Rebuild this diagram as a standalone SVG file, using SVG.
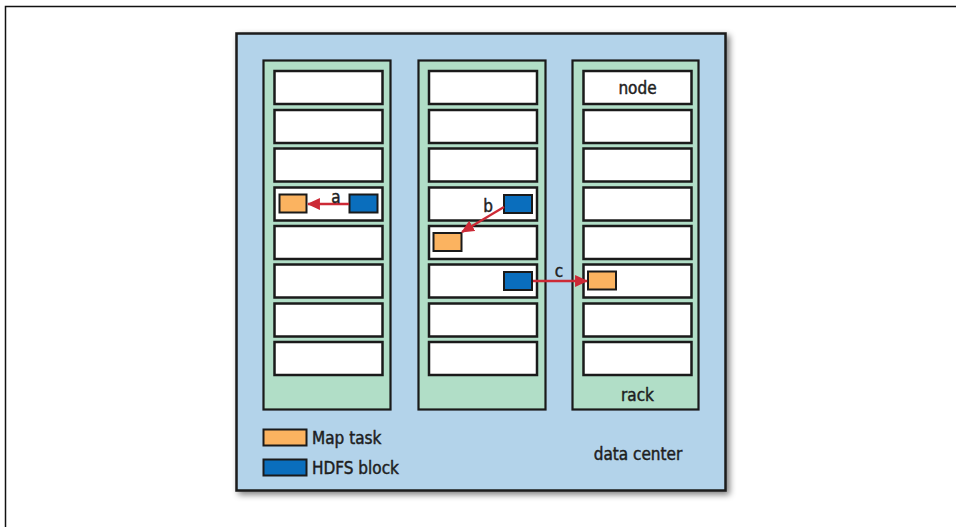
<svg xmlns="http://www.w3.org/2000/svg" width="956" height="527" viewBox="0 0 956 527">
<defs>
<style>
.dc{fill:#b3d3ea;stroke:#1a1a1a;stroke-width:2.5}
.rack{fill:#b1dec7;stroke:#1a1a1a;stroke-width:2.2}
.node{fill:#ffffff;stroke:#1a1a1a;stroke-width:2.5}
.map{fill:#fbb360;stroke:#1a1a1a;stroke-width:2}
.blk{fill:#0a6ebd;stroke:#1a1a1a;stroke-width:2}
.lbl{font-family:"DejaVu Sans Condensed","DejaVu Sans","Liberation Sans",sans-serif;font-stretch:condensed;fill:#1e1e1e;stroke:#1e1e1e;stroke-width:0.45;font-size:17px}
.conn{stroke:#cc2a36;stroke-width:2.3;fill:none;marker-end:url(#ah)}
</style>
<marker id="ah" viewBox="0 0 12 11" refX="11" refY="5.5" markerWidth="13" markerHeight="12" markerUnits="userSpaceOnUse" orient="auto">
<path d="M0,0 L12,5.5 L0,11 z" fill="#cc2a36"/>
</marker>
<filter id="sh" x="-5%" y="-5%" width="115%" height="115%">
<feGaussianBlur in="SourceAlpha" stdDeviation="3"/>
<feOffset dx="3" dy="3"/>
<feComponentTransfer><feFuncA type="linear" slope="0.5"/></feComponentTransfer>
<feMerge><feMergeNode/><feMergeNode in="SourceGraphic"/></feMerge>
</filter>
</defs>
<path d="M5.5,527 V6.5 H956" fill="none" stroke="#111" stroke-width="1.5"/>
<g id="datacenter">
<rect class="dc" x="236.5" y="33.5" width="489" height="457" filter="url(#sh)"/>
<text class="lbl" x="638" y="460" text-anchor="middle">data center</text>
</g>
<g id="rack1">
<rect class="rack" x="263.5" y="60.5" width="127" height="349"/>
<rect class="node" x="274.5" y="71" width="108" height="33"/>
<rect class="node" x="274.5" y="110" width="108" height="33"/>
<rect class="node" x="274.5" y="148.5" width="108" height="33"/>
<rect class="node" x="274.5" y="187.5" width="108" height="33"/>
<rect class="node" x="274.5" y="226" width="108" height="33"/>
<rect class="node" x="274.5" y="264.5" width="108" height="33"/>
<rect class="node" x="274.5" y="303.5" width="108" height="33"/>
<rect class="node" x="274.5" y="342" width="108" height="33"/>
</g>
<g id="rack2">
<rect class="rack" x="418.5" y="60.5" width="127" height="349"/>
<rect class="node" x="429" y="71" width="108" height="33"/>
<rect class="node" x="429" y="110" width="108" height="33"/>
<rect class="node" x="429" y="148.5" width="108" height="33"/>
<rect class="node" x="429" y="187.5" width="108" height="33"/>
<rect class="node" x="429" y="226" width="108" height="33"/>
<rect class="node" x="429" y="264.5" width="108" height="33"/>
<rect class="node" x="429" y="303.5" width="108" height="33"/>
<rect class="node" x="429" y="342" width="108" height="33"/>
</g>
<g id="rack3">
<rect class="rack" x="572.5" y="60.5" width="126" height="349"/>
<rect class="node" x="583.5" y="71" width="108" height="33"/>
<rect class="node" x="583.5" y="110" width="108" height="33"/>
<rect class="node" x="583.5" y="148.5" width="108" height="33"/>
<rect class="node" x="583.5" y="187.5" width="108" height="33"/>
<rect class="node" x="583.5" y="226" width="108" height="33"/>
<rect class="node" x="583.5" y="264.5" width="108" height="33"/>
<rect class="node" x="583.5" y="303.5" width="108" height="33"/>
<rect class="node" x="583.5" y="342" width="108" height="33"/>
<text class="lbl" x="637.5" y="94" text-anchor="middle">node</text>
<text class="lbl" x="637.5" y="401" text-anchor="middle">rack</text>
</g>
<g id="tasks">
<rect class="map" x="279.5" y="194.5" width="27" height="18"/>
<rect class="blk" x="349.5" y="194.5" width="28" height="18"/>
<rect class="blk" x="504" y="195" width="28" height="18"/>
<rect class="map" x="433.5" y="233" width="28" height="18"/>
<rect class="blk" x="504" y="272" width="28" height="18"/>
<rect class="map" x="588" y="271.5" width="28" height="18"/>
</g>
<g id="connectors">
<line class="conn" x1="349" y1="204" x2="308" y2="204"/>
<line class="conn" x1="504" y1="207" x2="462" y2="232"/>
<line class="conn" x1="533" y1="281" x2="587" y2="281"/>
<text class="lbl" x="336" y="203" text-anchor="middle">a</text>
<text class="lbl" x="488" y="212" text-anchor="middle">b</text>
<text class="lbl" x="559" y="277" text-anchor="middle">c</text>
</g>
<g id="legend">
<rect class="map" x="263.5" y="429.5" width="43" height="16"/>
<text class="lbl" x="312" y="444">Map task</text>
<rect class="blk" x="263.5" y="459.5" width="43" height="16"/>
<text class="lbl" x="312" y="474">HDFS block</text>
</g>
</svg>
